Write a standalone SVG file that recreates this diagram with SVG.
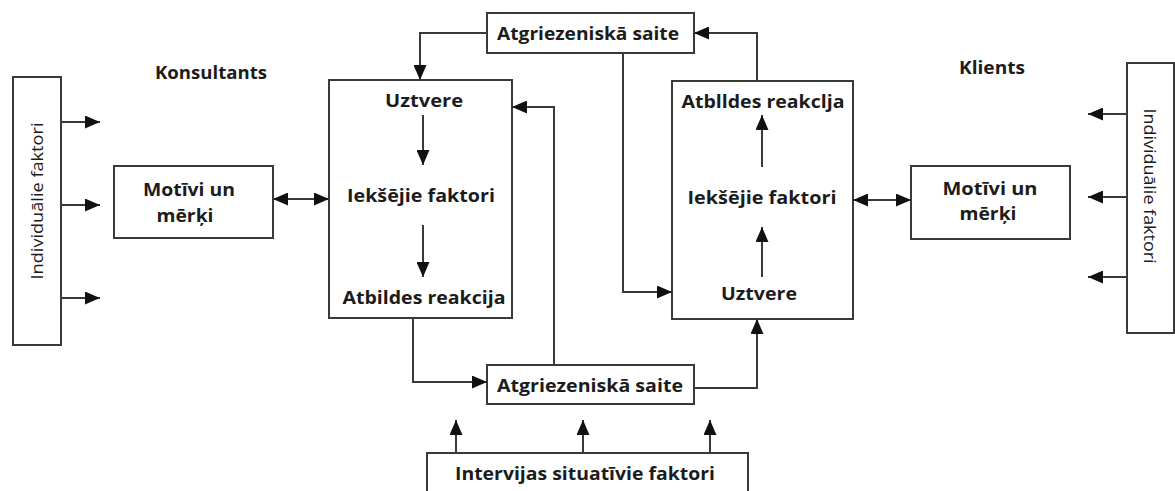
<svg xmlns="http://www.w3.org/2000/svg" width="1175" height="491" viewBox="0 0 1175 491">
<style>
.box{fill:#fff;stroke:#3a3a3a;stroke-width:2}
.t{font-family:"Open Sans","Liberation Sans",sans-serif;font-weight:bold;font-size:17px;fill:#1c1c1c;text-anchor:middle;dominant-baseline:central}
.n{font-family:"Open Sans","Liberation Sans",sans-serif;font-size:16px;fill:#1c1c1c;text-anchor:middle;dominant-baseline:central}
.c{fill:none;stroke:#3a3a3a;stroke-width:2}
</style>
<defs>
<marker id="ah" viewBox="0 0 15 13" markerWidth="15" markerHeight="13" refX="15" refY="6.5" orient="auto-start-reverse" markerUnits="userSpaceOnUse">
<path d="M0,0 L15,6.5 L0,13 z" fill="#111"/>
</marker>
</defs>
<rect width="1175" height="491" fill="#fff"/>
<g id="label-konsultants"><text class="t" x="211" y="72" textLength="112" lengthAdjust="spacingAndGlyphs">Konsultants</text></g>
<g id="label-klients"><text class="t" x="992" y="67" textLength="66" lengthAdjust="spacingAndGlyphs">Klients</text></g>
<g id="indiv-left">
<rect class="box" x="13" y="77" width="48" height="268"/>
<text class="n" transform="translate(37,201) rotate(-90)" x="0" y="0" textLength="157" lengthAdjust="spacingAndGlyphs">Individuālie faktori</text>
</g>
<g id="motivi-left">
<rect class="box" x="114" y="166" width="159" height="72"/>
<text class="t" x="189" y="189" textLength="92" lengthAdjust="spacingAndGlyphs">Motīvi un</text>
<text class="t" x="185" y="215" textLength="57" lengthAdjust="spacingAndGlyphs">mērķi</text>
</g>
<g id="konsultants-box">
<rect class="box" x="329" y="80" width="183" height="238"/>
<text class="t" x="424" y="100" textLength="78" lengthAdjust="spacingAndGlyphs">Uztvere</text>
<text class="t" x="421" y="195" textLength="148" lengthAdjust="spacingAndGlyphs">Iekšējie faktori</text>
<text class="t" x="424" y="297" textLength="163" lengthAdjust="spacingAndGlyphs">Atbildes reakcija</text>
</g>
<g id="saite-top">
<rect class="box" x="487" y="13" width="207" height="40"/>
<text class="t" x="588" y="33" textLength="182" lengthAdjust="spacingAndGlyphs">Atgriezeniskā saite</text>
</g>
<g id="saite-bottom">
<rect class="box" x="487" y="365" width="207" height="39"/>
<text class="t" x="590" y="385" textLength="186" lengthAdjust="spacingAndGlyphs">Atgriezeniskā saite</text>
</g>
<g id="intervijas">
<rect class="box" x="427" y="453" width="321" height="45"/>
<text class="t" x="585" y="473" textLength="260" lengthAdjust="spacingAndGlyphs">Intervijas situatīvie faktori</text>
</g>
<g id="klients-box">
<rect class="box" x="672" y="81" width="181" height="238"/>
<text class="t" x="763" y="101" textLength="163" lengthAdjust="spacingAndGlyphs">Atblldes reakclja</text>
<text class="t" x="762" y="197" textLength="149" lengthAdjust="spacingAndGlyphs">Iekšējie faktori</text>
<text class="t" x="759" y="293" textLength="76" lengthAdjust="spacingAndGlyphs">Uztvere</text>
</g>
<g id="motivi-right">
<rect class="box" x="911" y="166" width="159" height="73"/>
<text class="t" x="990" y="188" textLength="95" lengthAdjust="spacingAndGlyphs">Motīvi un</text>
<text class="t" x="988" y="213" textLength="57" lengthAdjust="spacingAndGlyphs">mērķi</text>
</g>
<g id="indiv-right">
<rect class="box" x="1127" y="63" width="47" height="270"/>
<text class="n" transform="translate(1150,186) rotate(90)" x="0" y="0" textLength="155" lengthAdjust="spacingAndGlyphs">Individuālie faktori</text>
</g>
<g id="connectors">
<path class="c" d="M61,122 H100" marker-end="url(#ah)"/>
<path class="c" d="M61,205 H100" marker-end="url(#ah)"/>
<path class="c" d="M61,298 H100" marker-end="url(#ah)"/>
<path class="c" d="M273,199 H329" marker-start="url(#ah)" marker-end="url(#ah)"/>
<path class="c" d="M423,115 V165" marker-end="url(#ah)"/>
<path class="c" d="M423,225 V277" marker-end="url(#ah)"/>
<path class="c" d="M413,318 V382 H487" marker-end="url(#ah)"/>
<path class="c" d="M554,365 V107 H512" marker-end="url(#ah)"/>
<path class="c" d="M694,388 H757 V319" marker-end="url(#ah)"/>
<path class="c" d="M456,453 V420" marker-end="url(#ah)"/>
<path class="c" d="M583,453 V420" marker-end="url(#ah)"/>
<path class="c" d="M710,453 V420" marker-end="url(#ah)"/>
<path class="c" d="M487,33 H420 V80" marker-end="url(#ah)"/>
<path class="c" d="M623,53 V292 H672" marker-end="url(#ah)"/>
<path class="c" d="M757,81 V33 H694" marker-end="url(#ah)"/>
<path class="c" d="M762,167 V115" marker-end="url(#ah)"/>
<path class="c" d="M762,277 V227" marker-end="url(#ah)"/>
<path class="c" d="M853,200 H911" marker-start="url(#ah)" marker-end="url(#ah)"/>
<path class="c" d="M1127,114 H1088" marker-end="url(#ah)"/>
<path class="c" d="M1127,197 H1088" marker-end="url(#ah)"/>
<path class="c" d="M1127,277 H1088" marker-end="url(#ah)"/>
</g>
</svg>
